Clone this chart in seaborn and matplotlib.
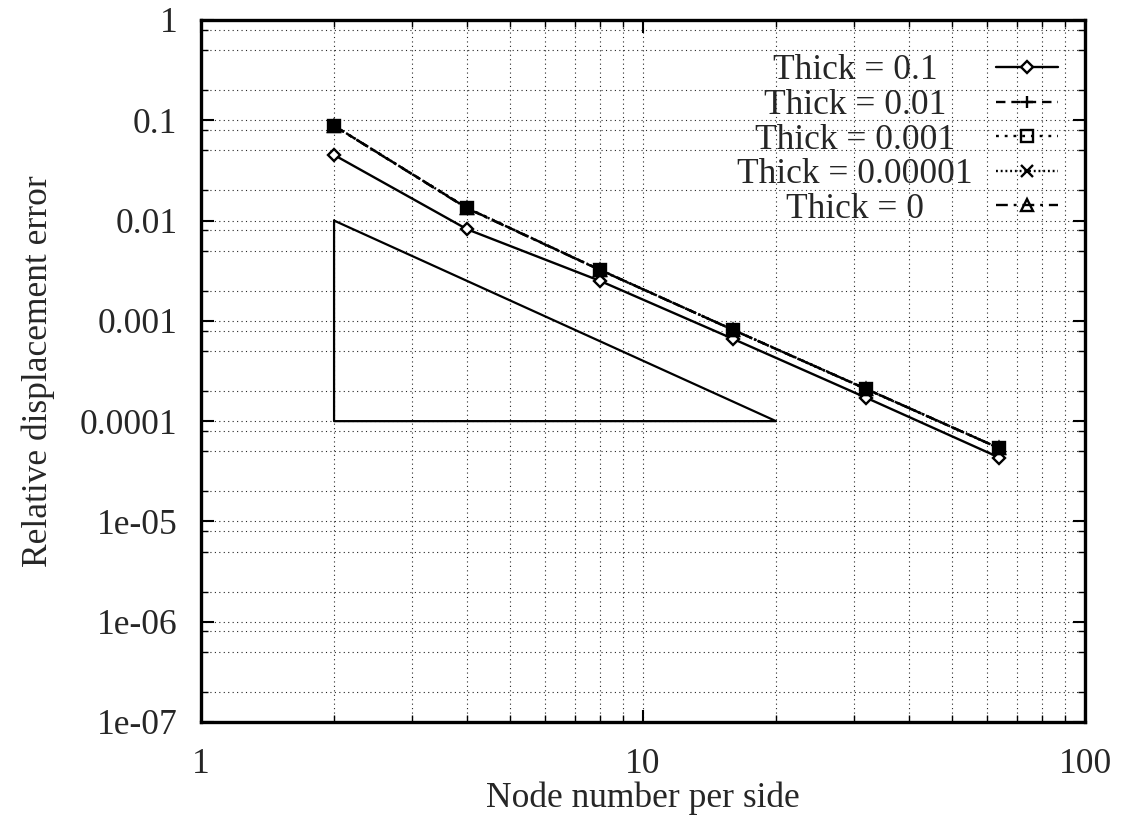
import numpy as np
import matplotlib
matplotlib.use('Agg')
import matplotlib.pyplot as plt
import matplotlib.ticker as mticker
import seaborn as sns

### data

nodes = [2, 4, 8, 16, 32, 64]
err_01 = [0.0451, 0.00819, 0.00250, 0.00066, 0.000171, 4.33e-05]
err_001 = [0.0883, 0.0133, 0.00322, 0.000811, 0.000209, 5.37e-05]
err_0001 = [0.0880, 0.0134, 0.00320, 0.000815, 0.000210, 5.35e-05]
err_000001 = [0.0885, 0.0133, 0.00323, 0.000810, 0.000208, 5.38e-05]
err_0 = [0.0882, 0.0132, 0.00321, 0.000812, 0.000209, 5.36e-05]
labels = ['Thick = 0.1', 'Thick = 0.01', 'Thick = 0.001', 'Thick = 0.00001', 'Thick = 0']

# slope reference triangle
tri_x = [2, 2, 20, 2]
tri_y = [0.01, 0.0001, 0.0001, 0.01]

yticks = [1e-7, 1e-6, 1e-5, 1e-4, 1e-3, 1e-2, 1e-1, 1]
ytick_labels = ['1e-07', '1e-06', '1e-05', '0.0001', '0.001', '0.01', '0.1', '1']
xticks = [1, 10, 100]
xtick_labels = ['1', '10', '100']

### style

sns.set_style('ticks')
plt.rcParams['font.family'] = ['Liberation Serif', 'DejaVu Serif']
fs = 25.5

fig = plt.figure(figsize=(11.25, 8.17), dpi=100)
ax = fig.add_axes([201 / 1125, 95 / 817, 884 / 1125, 702 / 817])

series = [err_01, err_001, err_0001, err_000001, err_0]
styles = [
    dict(linestyle='-', marker='D', markersize=6.5, markerfacecolor='white', markeredgewidth=1.7),
    dict(linestyle=(0, (4, 2.5)), marker='+', markersize=9, markeredgewidth=1.7),
    dict(linestyle=(0, (1.2, 2.5)), marker='s', markersize=8, markerfacecolor='black', markeredgewidth=1.7),
    dict(linestyle=(0, (0.8, 1.2)), marker='x', markersize=8, markeredgewidth=1.7),
    dict(linestyle=(0, (5, 2.5, 1.2, 2.5)), marker='^', markersize=8, markerfacecolor='none', markeredgewidth=1.7),
]

for vals, lab, st in zip(series, labels, styles):
    sns.lineplot(x=nodes, y=vals, ax=ax, color='black', linewidth=1.7,
                 markeredgecolor='black', label=lab, **st)

sns.lineplot(x=tri_x, y=tri_y, ax=ax, color='black', linewidth=1.6, sort=False,
             estimator=None, legend=False)

### axes

ax.set_xscale('log')
ax.set_yscale('log')
ax.set_xlim(1, 100)
ax.set_ylim(1e-7, 1)

ax.set_xticks(xticks)
ax.set_xticklabels(xtick_labels, fontsize=fs)
ax.set_yticks(yticks)
ax.set_yticklabels(ytick_labels, fontsize=fs)
ax.xaxis.set_minor_locator(mticker.LogLocator(base=10, subs=np.arange(2, 10), numticks=20))
ax.yaxis.set_minor_locator(mticker.LogLocator(base=10, subs=[2, 5, 8], numticks=20))
ax.xaxis.set_minor_formatter(mticker.NullFormatter())
ax.yaxis.set_minor_formatter(mticker.NullFormatter())

ax.tick_params(which='both', direction='in', top=True, right=True, color='black')
ax.tick_params(which='major', length=9, width=1.5)
ax.tick_params(which='minor', length=5, width=1.0)
ax.tick_params(axis='y', which='major', pad=17)
ax.tick_params(axis='x', which='major', pad=19)

ax.grid(True, which='both', linestyle=(0, (1, 3)), color='black', linewidth=0.8, alpha=0.85)

for sp in ax.spines.values():
    sp.set_linewidth(2.4)
    sp.set_color('black')

ax.set_xlabel('Node number per side', fontsize=fs, labelpad=0)
ax.set_ylabel('Relative displacement error', fontsize=fs, labelpad=18)

### legend: handles from matplotlib, labels centred as in the gnuplot key

leg = ax.legend(loc='upper right', bbox_to_anchor=(0.9695, 0.951), frameon=False,
                markerfirst=False, fontsize=fs, handlelength=1.75, handletextpad=1.2,
                labelspacing=0.045, borderpad=0, borderaxespad=0, numpoints=1)
# open square in the key
leg.legend_handles[2].set_markerfacecolor('none')

fig.canvas.draw()
for t in leg.get_texts():
    bb = t.get_window_extent()
    yc = (bb.y0 + bb.y1) / 2
    fig.text(855 / 1125, yc / fig.bbox.height, t.get_text(), ha='center', va='center',
             fontsize=fs)
    t.set_visible(False)

fig.savefig('out.png', dpi=100)
